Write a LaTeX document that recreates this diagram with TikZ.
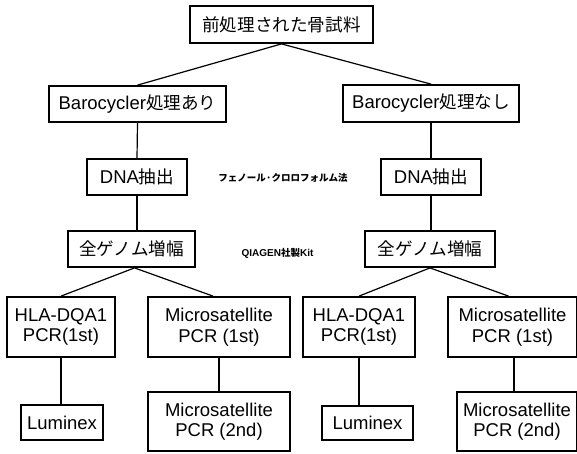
\documentclass[tikz,border=0pt]{standalone}
\usepackage{fontspec}
\setmainfont{Liberation Sans}
\newfontfamily\cjk[Scale=0.95]{Noto Sans CJK JP}
\begin{document}
\begin{tikzpicture}[x=1pt,y=-1pt,
  box/.style={draw,line width=1.8pt,inner sep=0pt,align=center,
    font=\fontsize{18.5}{20.5}\selectfont},
  conn/.style={line width=1.2pt},
  lbl/.style={font=\fontsize{10}{11}\selectfont\bfseries,inner sep=0pt}]
\useasboundingbox (0,0) rectangle (577,453);
\node[box,minimum width=183pt,minimum height=37pt] (top) at (281.5,24.5) {\cjk 前処理された骨試料};
\node[box,minimum width=177pt,minimum height=36pt] (baroL) at (137.5,104) {Barocycler{\cjk 処理あり}};
\node[box,minimum width=176pt,minimum height=37pt] (baroR) at (431,103.5) {Barocycler{\cjk 処理なし}};
\node[box,minimum width=100pt,minimum height=36pt] (dnaL) at (137,177) {DNA{\cjk 抽出}};
\node[box,minimum width=100pt,minimum height=36pt] (dnaR) at (431,177) {DNA{\cjk 抽出}};
\node[box,minimum width=127pt,minimum height=36pt] (genL) at (131.5,249) {\cjk 全ゲノム増幅};
\node[box,minimum width=130pt,minimum height=36pt] (genR) at (430,249) {\cjk 全ゲノム増幅};
\node[box,minimum width=108pt,minimum height=60pt] (hlaL) at (61,327) {HLA-DQA1\\PCR(1st)};
\node[box,minimum width=142pt,minimum height=60pt] (msL) at (219,327) {Microsatellite\\PCR (1st)};
\node[box,minimum width=82pt,minimum height=35pt] (lumL) at (62,422.5) {Luminex};
\node[box,minimum width=142pt,minimum height=59pt] (ms2L) at (219,421.5) {Microsatellite\\PCR (2nd)};
\node[box,minimum width=112pt,minimum height=60pt] (hlaR) at (359,327) {HLA-DQA1\\PCR(1st)};
\node[box,minimum width=129pt,minimum height=60pt] (msR) at (512.5,327) {Microsatellite\\PCR (1st)};
\node[box,minimum width=91pt,minimum height=34pt] (lumR) at (367.5,423) {Luminex};
\node[box,minimum width=120pt,minimum height=59pt] (ms2R) at (517,421.5) {Microsatellite\\PCR (2nd)};
\node[lbl] (phenol) at (283,178) {\cjk\bfseries フェノール·クロロフォルム法};
\node[lbl] (qiagen) at (277.5,253) {QIAGEN{\cjk\bfseries 社製}Kit};
\draw[conn] (top.south) -- (baroL.north);
\draw[conn] (top.south) -- (baroR.north);
\draw[conn] (baroL.south) -- (dnaL.north);
\draw[conn] (baroR.south) -- (dnaR.north);
\draw[conn] (dnaL.south) -- (dnaL.south |- genL.north);
\draw[conn] (dnaR.south) -- (dnaR.south |- genR.north);
\draw[conn] ([xshift=3pt]genL.south) -- (hlaL.north);
\draw[conn] ([xshift=3pt]genL.south) -- ([xshift=-6pt]msL.north);
\draw[conn] (genR.south) -- (hlaR.north);
\draw[conn] (genR.south) -- ([xshift=-4pt]msR.north);
\draw[conn] (hlaL.south) -- (hlaL.south |- lumL.north);
\draw[conn] (msL.south) -- (ms2L.north);
\draw[conn] (hlaR.south) -- (hlaR.south |- lumR.north);
\draw[conn] ([xshift=1.5pt]msR.south) -- ([xshift=1.5pt]msR.south |- ms2R.north);
\end{tikzpicture}
\end{document}
